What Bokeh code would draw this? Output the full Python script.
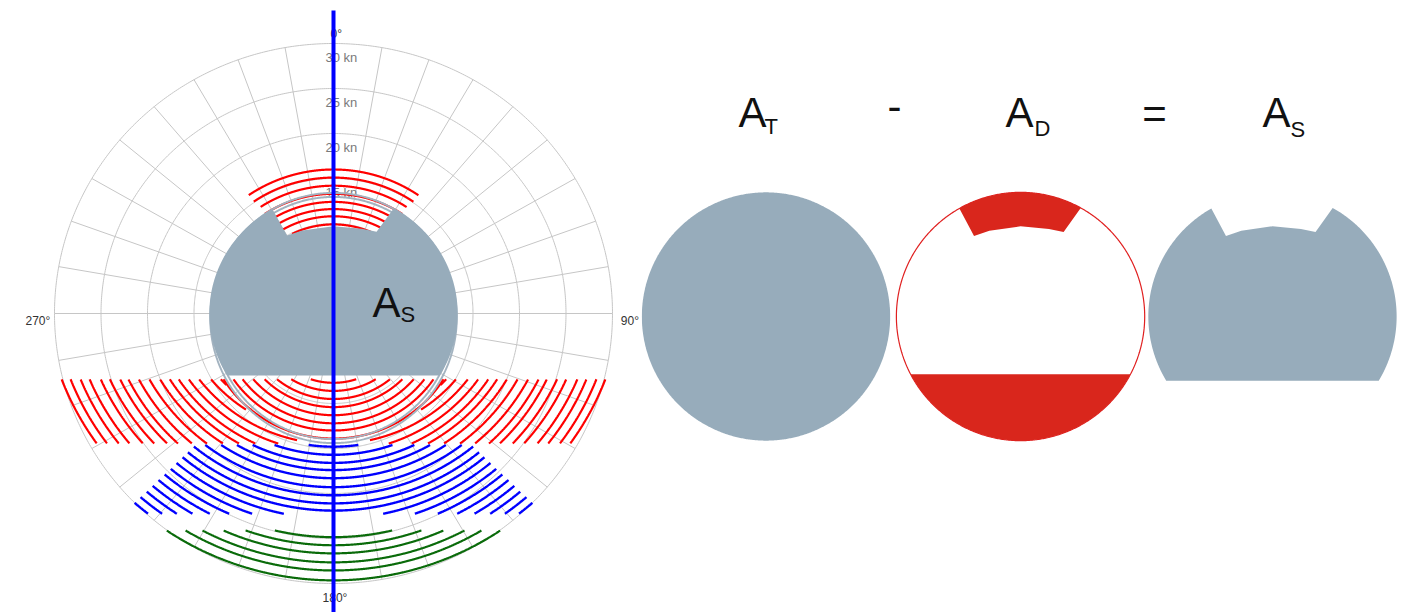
import numpy as np
from bokeh.plotting import figure
from bokeh.layouts import row
from bokeh.models import Range1d
from bokeh.embed import file_html
from bokeh.resources import INLINE
from bokeh.core.properties import value

# ---------------- data (speeds in kn, bearings in degrees) ----------------
ring_speeds = [5, 10, 15, 20, 25, 30]
ring_labels = ["5 kn", "10 kn", "15 kn", "20 kn", "25 kn", "30 kn"]
spoke_bearings = [0, 10, 20, 30, 40, 50, 60, 70, 80, 90, 100, 110, 120, 130, 140, 150, 160, 170,
                  180, 190, 200, 210, 220, 230, 240, 250, 260, 270, 280, 290, 300, 310, 320, 330, 340, 350]
degree_labels = ["0°", "90°", "180°", "270°"]
degree_label_x = [0.3, 30.9, 0.16, -30.45]
degree_label_y = [31.1, -0.8, -31.6, -0.8]
degree_label_align = ["center", "left", "center", "right"]

# safe area A_S (grey disk with top notch and bottom cut)
disk_speed = 13.35
cut_speed = 6.9          # disk cut below centre (kn)
ad_cut_speed = 6.2       # bottom red segment of A_D
notch_bearings = [-29.5, -30.0, -20.0, 0.0, 18.0, 27.0, 29.0]
notch_speeds = [13.35, 10.0, 9.8, 9.7, 9.9, 10.2, 13.35]

# top danger zone (red arcs)
top_red_speeds = [9.9, 10.8, 11.6, 12.4, 13.3, 14.2, 15.1, 16.0]
top_red_half_angle = [26.8, 31.2, 31.9, 32.5, 33.9, 33.6, 34.7, 34.8]

# bottom danger zones hatching: radii of hatch arcs and the height of their centre (kn)
red_inner_speeds = [7.7, 8.6, 9.5, 10.4, 11.3, 12.2, 13.0, 13.9]
red_outer_radii = [15.5, 16.3, 17.1, 18.1, 19.0, 19.9, 20.7, 21.6, 22.6, 23.6, 24.6, 25.4,
                   26.4, 27.3, 28.4, 29.3, 30.3, 31.2]
red_outer_centre = 3.6
red_band = (7.3, 14.45)      # southward component range (kn)
blue_radii = [18.1, 19.0, 19.9, 20.7, 21.6, 22.6, 23.5, 24.4, 25.2, 26.1, 27.0, 27.9, 28.8,
              29.7, 30.6, 31.5, 32.4]
blue_centre = 3.3
blue_band = (14.6, 22.25)
blue_half_sector = 45.5      # degrees either side of 180°
green_radii = [27.0, 27.9, 28.8, 29.8, 30.7, 31.8]
green_centre = 2.15
green_band_min = 24.1
max_speed = 30.0

grey_ring_rx = [12.9, 13.25]
grey_ring_ry = [13.45, 13.9]
grey_ring_shift = -0.5

# equation A_T - A_D = A_S (label positions in panel units)
eq_main_text = ["A", "A", "A"]
eq_main_x = [-2.96, 25.75, 53.39]
eq_main_y = [21.94, 21.94, 21.94]
eq_sub_text = ["T", "D", "S"]
eq_sub_x = [-0.16, 28.87, 56.4]
eq_sub_y = [20.43, 20.22, 20.11]
eq_ops_text = ["-", "="]
eq_ops_x = [13.82, 41.77]
eq_ops_y = [22.53, 21.88]
panel_offsets = [0.0, 27.37, 54.46]

# ---------------- colours ----------------
GREY = "#97acbb"
RED = "#ff0000"
FILLRED = "#d9261c"
BLUE = "#0000ff"
GREEN = "#0a6b0a"
GRID = "#c6c6c6"
FONT = "Liberation Sans"
NARROW = "'Liberation Sans Narrow', 'Liberation Sans', Arial"


def pol(b, r, cx=0.0, cy=0.0):
    b = np.radians(np.asarray(b, dtype=float))
    r = np.asarray(r, dtype=float)
    return cx + r * np.sin(b), cy + r * np.cos(b)


def runs(x, y, m):
    xs, ys = [], []
    idx = np.flatnonzero(m)
    if len(idx) == 0:
        return xs, ys
    br = np.where(np.diff(idx) > 1)[0]
    starts = np.r_[idx[0], idx[br + 1]]
    ends = np.r_[idx[br], idx[-1]]
    for s, e in zip(starts, ends):
        if e > s:
            xs.append(x[s:e + 1].tolist())
            ys.append(y[s:e + 1].tolist())
    return xs, ys


B = np.arange(-90.0, 270.0001, 0.1)


def hatch(radii, centre, cond):
    XS, YS = [], []
    for R in radii:
        x, y = pol(B, R, 0.0, centre)
        r = np.hypot(x, y)
        bear = np.degrees(np.arctan2(x, y)) % 360
        m = cond(x, y, r, bear)
        xs, ys = runs(x, y, m)
        XS += xs
        YS += ys
    return XS, YS


def outside_ring(x, y):
    return (x / (grey_ring_rx[1] * 1.02)) ** 2 + ((y - grey_ring_shift) / (grey_ring_ry[1] * 1.02)) ** 2 >= 1


def as_shape(cx, cy, cut):
    bc = np.degrees(np.arccos(-cut / disk_speed))
    a1 = np.linspace(notch_bearings[-1], bc, 200)
    a2 = np.linspace(360 - bc, 360 + notch_bearings[0], 200)
    x1, y1 = pol(a1, disk_speed, cx, cy)
    x2, y2 = pol(a2, disk_speed, cx, cy)
    xn, yn = pol(notch_bearings[1:-1], notch_speeds[1:-1], cx, cy)
    return np.r_[x1, x2, xn], np.r_[y1, y2, yn]


def notch_patch(cx, cy):
    xn, yn = pol(notch_bearings, notch_speeds, cx, cy)
    a = np.linspace(notch_bearings[-1], notch_bearings[0], 200)
    xa, ya = pol(a, disk_speed, cx, cy)
    return np.r_[xn, xa], np.r_[yn, ya]


def bottom_segment(cx, cy, cut):
    bc = np.degrees(np.arccos(-cut / disk_speed))
    a = np.linspace(bc, 360 - bc, 300)
    return pol(a, disk_speed, cx, cy)


def fig(w, h, xr, yr):
    p = figure(width=w, height=h, x_range=Range1d(*xr), y_range=Range1d(*yr),
               output_backend="svg", toolbar_location=None, min_border=0,
               x_axis_location=None, y_axis_location=None)
    p.grid.visible = False
    p.outline_line_color = None
    p.background_fill_color = "white"
    return p


# ---------------- left: polar diagram ----------------
WL, H = 641, 612
SX, SY = 9.3, 9.0   # px per kn
CXp, CYp = 333, 313
pl = fig(WL, H, (-CXp / SX, (WL - CXp) / SX), (-(H - CYp) / SY, CYp / SY))

full = np.linspace(0, 360, 721)
rx, ry = [], []
for r in ring_speeds:
    x, y = pol(full, r)
    rx.append(x.tolist()); ry.append(y.tolist())
pl.multi_line(rx, ry, line_color=GRID, line_width=1)
sx_, sy_ = [], []
for b in spoke_bearings:
    x, y = pol([b, b], [0, max_speed])
    sx_.append(x.tolist()); sy_.append(y.tolist())
pl.multi_line(sx_, sy_, line_color=GRID, line_width=1)

pl.text(x=[-0.86] * len(ring_speeds), y=[r - 1.56 for r in ring_speeds], text=ring_labels,
        text_font=value(FONT), text_font_size="13px", text_color="#7a7a7a",
        text_align="left", text_baseline="middle")
for t, x, y, a in zip(degree_labels, degree_label_x, degree_label_y, degree_label_align):
    pl.text(x=[x], y=[y], text=[t], text_font=value(FONT), text_font_size="12px",
            text_color="#333333", text_align=a, text_baseline="middle")

# bottom hatching
in_red = lambda x, y: (-y >= red_band[0]) & (-y <= red_band[1])
rxs, rys = hatch(red_inner_speeds, 0.0, lambda x, y, r, b: in_red(x, y))
oxs, oys = hatch(red_outer_radii, red_outer_centre,
                 lambda x, y, r, b: in_red(x, y) & (r <= max_speed + 0.3) & outside_ring(x, y))
pl.multi_line(rxs + oxs, rys + oys, line_color=RED, line_width=2.2)
bxs, bys = hatch(blue_radii, blue_centre,
                 lambda x, y, r, b: (-y >= blue_band[0]) & (-y <= blue_band[1]) & (np.abs(b - 180) <= blue_half_sector))
pl.multi_line(bxs, bys, line_color=BLUE, line_width=2.4)
gxs, gys = hatch(green_radii, green_centre, lambda x, y, r, b: (-y >= green_band_min))
pl.multi_line(gxs, gys, line_color=GREEN, line_width=2.2)

# top red hatching
txs, tys = [], []
for r, h in zip(top_red_speeds, top_red_half_angle):
    x, y = pol(B, r)
    xs, ys = runs(x, y, np.abs(B) <= h)
    txs += xs; tys += ys
pl.multi_line(txs, tys, line_color=RED, line_width=2.2)

# grey double ring
t = np.radians(full)
gx = [(a * np.sin(t)).tolist() for a in grey_ring_rx]
gy = [(grey_ring_shift + b * np.cos(t)).tolist() for b in grey_ring_ry]
pl.multi_line(gx, gy, line_color="#a3b3c0", line_width=2)

# safe area disk
dx, dy = as_shape(0, 0, cut_speed)
pl.patch(dx, dy, fill_color=GREY, line_color=None)

# heading line
pl.line(x=[0, 0], y=[(CYp - 10) / SY, -40], line_color=BLUE, line_width=4)

pl.text(x=[4.19], y=[1.22], text=["A"], text_font=value(NARROW), text_font_size="42px",
        text_color="#111111", text_align="left", text_baseline="middle")
pl.text(x=[7.2], y=[-0.11], text=["S"], text_font=value(NARROW), text_font_size="22px",
        text_color="#111111", text_align="left", text_baseline="middle")

# ---------------- right: A_T - A_D = A_S ----------------
WR = 759
S2 = 9.3
CX2, CY2 = 124.5, 316
pr = fig(WR, H, (-CX2 / S2, (WR - CX2) / S2), (-(H - CY2) / S2, CY2 / S2))

o_t, o_d, o_s = panel_offsets
cx_, cy_ = pol(full, disk_speed, o_t, 0)
pr.patch(cx_, cy_, fill_color=GREY, line_color=None)

cx_, cy_ = pol(full, disk_speed, o_d, 0)
pr.patch(cx_, cy_, fill_color="white", line_color="#e02020", line_width=1.2)
nx, ny = notch_patch(o_d, 0)
pr.patch(nx, ny, fill_color=FILLRED, line_color=None)
bx, by = bottom_segment(o_d, 0, ad_cut_speed)
pr.patch(bx, by, fill_color=FILLRED, line_color=None)

sx2, sy2 = as_shape(o_s, 0, cut_speed)
pr.patch(sx2, sy2, fill_color=GREY, line_color=None)

pr.text(x=eq_main_x, y=eq_main_y, text=eq_main_text, text_font=value(NARROW), text_font_size="42px",
        text_color="#111111", text_align="left", text_baseline="middle")
pr.text(x=eq_sub_x, y=eq_sub_y, text=eq_sub_text, text_font=value(NARROW), text_font_size="22px",
        text_color="#111111", text_align="left", text_baseline="middle")
pr.text(x=eq_ops_x, y=eq_ops_y, text=eq_ops_text, text_font=value(FONT), text_font_size="42px",
        text_color="#111111", text_align="center", text_baseline="middle")

layout = row(pl, pr)
open("out.html", "w").write(file_html(layout, INLINE))
